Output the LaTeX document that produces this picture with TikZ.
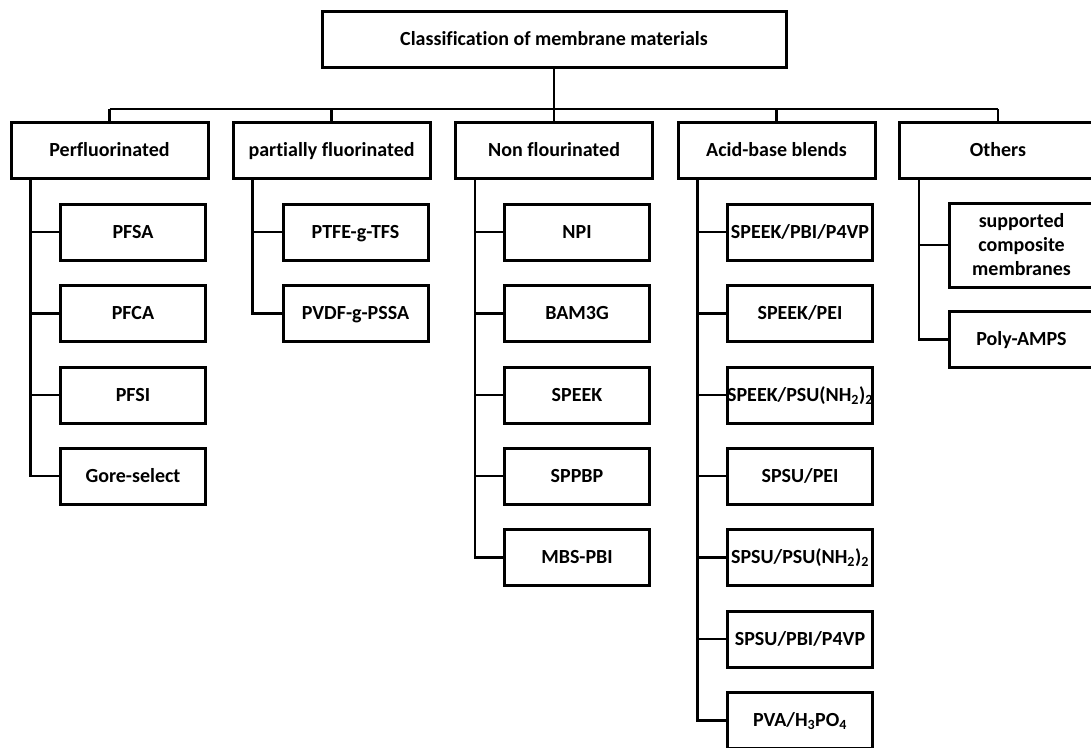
\documentclass[tikz,border=0pt]{standalone}
\usepackage{fontspec}
\setmainfont[Ligatures={NoCommon}]{Carlito}
\begin{document}
\begin{tikzpicture}[x=1pt,y=-1pt,
  basebox/.style={draw, line width=3pt, rectangle, inner sep=0pt, minimum height=56pt,
    align=center, font=\bfseries\fontsize{20}{24}\selectfont},
  box/.style={basebox, text height=16.5pt, text depth=4pt},
  catbox/.style={box, minimum width=197pt},
  leafbox/.style={box, minimum width=145pt},
  multibox/.style={basebox, minimum width=145pt},
  conn/.style={line width=2.7pt},
]
\useasboundingbox (0,0) rectangle (1091,747);
% root
\node[box, minimum width=464pt] (top) at (554,39) {Classification of membrane materials};
% categories
\node[catbox] (c1) at (109.5,150.5) {Perfluorinated};
\node[catbox] (c2) at (331.5,150.5) {partially fluorinated};
\node[catbox] (c3) at (554,150.5) {Non flourinated};
\node[catbox] (c4) at (776.5,150.5) {Acid-base blends};
\node[catbox] (c5) at (998,150.5) {Others};
% Perfluorinated
\node[leafbox] (c1a) at (133,232) {PFSA};
\node[leafbox] (c1b) at (133,313.5) {PFCA};
\node[leafbox] (c1c) at (133,395) {PFSI};
\node[leafbox] (c1d) at (133,476) {Gore-select};
% partially fluorinated
\node[leafbox] (c2a) at (355.5,232) {PTFE-g-TFS};
\node[leafbox] (c2b) at (355.5,313.5) {PVDF-g-PSSA};
% Non flourinated
\node[leafbox] (c3a) at (577,232) {NPI};
\node[leafbox] (c3b) at (577,313.5) {BAM3G};
\node[leafbox] (c3c) at (577,395) {SPEEK};
\node[leafbox] (c3d) at (577,476) {SPPBP};
\node[leafbox] (c3e) at (577,557.5) {MBS-PBI};
% Acid-base blends
\node[leafbox] (c4a) at (800,232) {SPEEK/PBI/P4VP};
\node[leafbox] (c4b) at (800,313.5) {SPEEK/PEI};
\node[leafbox] (c4c) at (800,395) {SPEEK/PSU(NH\textsubscript{2})\textsubscript{2}};
\node[leafbox] (c4d) at (800,476) {SPSU/PEI};
\node[leafbox] (c4e) at (800,557.5) {SPSU/PSU(NH\textsubscript{2})\textsubscript{2}};
\node[leafbox] (c4f) at (800,639) {SPSU/PBI/P4VP};
\node[leafbox] (c4g) at (800,720.5) {PVA/H\textsubscript{3}PO\textsubscript{4}};
% Others
\node[multibox, minimum height=84pt] (c5a) at (1021.5,245) {supported\\composite\\membranes};
\node[leafbox] (c5b) at (1021.5,339.5) {Poly-AMPS};
% bus
\coordinate (bus) at (0,109);
\draw[conn] (top.south) -- (top.south |- bus);
\draw[conn] (c1.north |- bus) -- (c5.north |- bus);
\foreach \i in {1,...,5} \draw[conn] (c\i.north |- bus) -- (c\i.north);
% trunks
\foreach \c/\leaves in {c1/{c1a,c1b,c1c,c1d}, c2/{c2a,c2b}, c3/{c3a,c3b,c3c,c3d,c3e},
                         c4/{c4a,c4b,c4c,c4d,c4e,c4f,c4g}, c5/{c5a,c5b}}{
  \foreach \l in \leaves
    \draw[conn] ([xshift=21pt]\c.south west) |- (\l.west);
}
\end{tikzpicture}
\end{document}
